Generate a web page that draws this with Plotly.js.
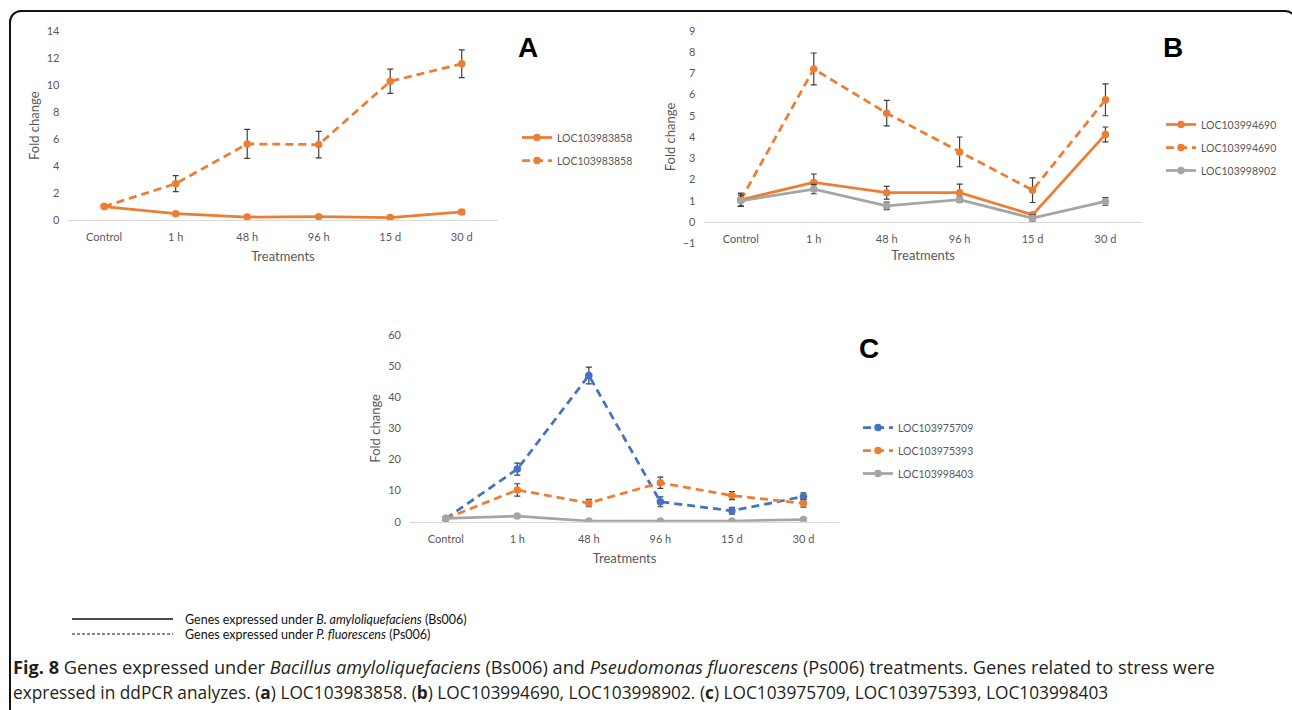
<!DOCTYPE html>
<html>
<head>
<meta charset="utf-8">
<script src="https://cdn.plot.ly/plotly-3.0.1.min.js"></script>
<style>
  html, body { margin: 0; padding: 0; background: #fff; overflow: hidden; }
  #wrap { position: relative; width: 1292px; height: 710px; overflow: hidden; }
  #chart { position: absolute; left: 0; top: 0; width: 1292px; height: 710px; }
  #frame { position: absolute; left: 9px; top: 10px; width: 1284px; height: 720px;
           border: 2px solid #111; border-radius: 12px; pointer-events: none; box-sizing: content-box; }
</style>
</head>
<body>
<div id="wrap"><div id="chart"></div><div id="frame"></div></div>
<script>
// ---------- data ----------
const categories = ['Control', '1 h', '48 h', '96 h', '15 d', '30 d'];

// Panel A
const a_bs_LOC103983858 = [1.0, 0.47, 0.22, 0.25, 0.18, 0.6];
const a_bs_LOC103983858_err = [0.1, 0.08, 0.05, 0.05, 0.05, 0.18];
const a_ps_LOC103983858 = [1.0, 2.7, 5.65, 5.6, 10.3, 11.6];
const a_ps_LOC103983858_err = [0.1, 0.6, 1.08, 0.98, 0.9, 1.03];

// Panel B
const b_bs_LOC103994690 = [1.05, 1.86, 1.38, 1.38, 0.34, 4.12];
const b_bs_LOC103994690_err = [0.3, 0.4, 0.3, 0.4, 0.1, 0.35];
const b_ps_LOC103994690 = [1.05, 7.2, 5.12, 3.3, 1.5, 5.75];
const b_ps_LOC103994690_err = [0.3, 0.75, 0.6, 0.7, 0.58, 0.75];
const b_bs_LOC103998902 = [1.0, 1.55, 0.76, 1.05, 0.18, 0.97];
const b_bs_LOC103998902_err = [0.27, 0.22, 0.18, 0.13, 0.17, 0.18];

// Panel C
const c_ps_LOC103975709 = [1.0, 16.9, 47.0, 6.4, 3.5, 8.1];
const c_ps_LOC103975709_err = [0.5, 1.9, 2.7, 1.6, 1.1, 1.2];
const c_ps_LOC103975393 = [1.0, 10.2, 6.0, 12.5, 8.4, 5.9];
const c_ps_LOC103975393_err = [0.5, 2.0, 1.2, 1.8, 1.3, 1.2];
const c_bs_LOC103998403 = [1.1, 1.8, 0.2, 0.2, 0.2, 0.7];

// ---------- styling ----------
const W = 1292, H = 710;
const px = v => v / W;
const py = v => 1 - v / H;
const ORANGE = '#ED7D31', GRAY = '#A5A5A5', BLUE = '#4472C4';
const TXT = '#595959';
const FONT = 'Lato, "Open Sans", sans-serif';
const DASH = '8px,5px';

function errY(arr) {
  return { type: 'data', array: arr, visible: true, color: '#3f3f3f', thickness: 1.2, width: 3 };
}
function tr(y, err, color, dash, name, xa, ya, leg, grp) {
  const t = {
    type: 'scatter', mode: 'lines+markers', x: categories, y: y, name: name,
    xaxis: xa, yaxis: ya, legend: leg, legendgroup: grp,
    line: { color: color, width: 2.75, dash: dash },
    marker: { color: color, size: 7.5, symbol: 'circle' },
    hoverinfo: 'x+y+name'
  };
  if (err) t.error_y = errY(err);
  return t;
}

const data = [
  tr(a_bs_LOC103983858, a_bs_LOC103983858_err, ORANGE, 'solid', 'LOC103983858', 'x', 'y', 'legend', 'a1'),
  tr(a_ps_LOC103983858, a_ps_LOC103983858_err, ORANGE, DASH, 'LOC103983858', 'x', 'y', 'legend', 'a2'),
  tr(b_bs_LOC103994690, b_bs_LOC103994690_err, ORANGE, 'solid', 'LOC103994690', 'x2', 'y2', 'legend2', 'b1'),
  tr(b_ps_LOC103994690, b_ps_LOC103994690_err, ORANGE, DASH, 'LOC103994690', 'x2', 'y2', 'legend2', 'b2'),
  tr(b_bs_LOC103998902, b_bs_LOC103998902_err, GRAY, 'solid', 'LOC103998902', 'x2', 'y2', 'legend2', 'b3'),
  tr(c_ps_LOC103975709, c_ps_LOC103975709_err, BLUE, DASH, 'LOC103975709', 'x3', 'y3', 'legend3', 'c1'),
  tr(c_ps_LOC103975393, c_ps_LOC103975393_err, ORANGE, DASH, 'LOC103975393', 'x3', 'y3', 'legend3', 'c2'),
  tr(c_bs_LOC103998403, null, GRAY, 'solid', 'LOC103998403', 'x3', 'y3', 'legend3', 'c3')
];

function xAx(domain, anchor, standoff, extra) {
  return Object.assign({
    domain: domain, anchor: anchor, type: 'category', range: [-0.5, 5.5],
    showgrid: false, zeroline: false, showline: true, linecolor: '#d9d9d9', linewidth: 1,
    ticks: '', ticklabelstandoff: 7, tickfont: { family: FONT, size: 11, color: TXT },
    title: { text: 'Treatments', font: { family: FONT, size: 13, color: TXT }, standoff: standoff },
    fixedrange: true
  }, extra || {});
}
function yAx(domain, anchor, range, dtick) {
  return {
    domain: domain, anchor: anchor, range: range, dtick: dtick, tick0: 0,
    showgrid: false, zeroline: false, showline: false, ticks: '',
    ticklabelstandoff: 8, tickfont: { family: FONT, size: 11, color: TXT },
    title: { text: 'Fold change', font: { family: FONT, size: 13, color: TXT }, standoff: 4 },
    fixedrange: true
  };
}

// panel pixel frames
const A = { x0: 68.4, x1: 497.5, yTop: 31.5, yBot: 220 };
const B = { x0: 704.4, x1: 1141.9, yTop: 30.7, yBot: 243.3, yZero: 222.0 };
const C = { x0: 410, x1: 839.2, yTop: 335, yBot: 521.7 };

function legendAt(xpix, ypix) {
  return {
    x: px(xpix), y: py(ypix), xanchor: 'left', yanchor: 'top',
    bgcolor: 'rgba(0,0,0,0)', borderwidth: 0, traceorder: 'grouped', tracegroupgap: 4,
    font: { family: FONT, size: 10.5, color: TXT }, itemclick: false, itemdoubleclick: false
  };
}

const capFont1 = { family: '"Open Sans", "Noto Sans", sans-serif', size: 18.2, color: '#231f20' };
const capFont2 = { family: '"Open Sans", "Noto Sans", sans-serif', size: 17.3, color: '#231f20' };
const legFont = { family: FONT, size: 12.5, color: '#111' };

const layout = {
  width: W, height: H, margin: { l: 0, r: 0, t: 0, b: 0 },
  paper_bgcolor: '#ffffff', plot_bgcolor: 'rgba(0,0,0,0)',
  showlegend: true,
  xaxis: xAx([px(A.x0), px(A.x1)], 'y', 9),
  yaxis: yAx([py(A.yBot), py(A.yTop)], 'x', [0, 14], 2),
  xaxis2: xAx([px(B.x0), px(B.x1)], 'free', 6, { position: py(B.yZero) }),
  yaxis2: yAx([py(B.yBot), py(B.yTop)], 'x2', [-1, 9], 1),
  xaxis3: xAx([px(C.x0), px(C.x1)], 'y3', 9),
  yaxis3: yAx([py(C.yBot), py(C.yTop)], 'x3', [0, 60], 10),
  legend: legendAt(517, 123),
  legend2: legendAt(1161, 110),
  legend3: legendAt(858, 413),
  annotations: [
    { text: '<b>A</b>', x: px(516), y: py(47), xref: 'paper', yref: 'paper', xanchor: 'left', yanchor: 'middle',
      showarrow: false, font: { family: '"Liberation Sans", Arial, sans-serif', size: 28, color: '#000' } },
    { text: '<b>B</b>', x: px(1161), y: py(47), xref: 'paper', yref: 'paper', xanchor: 'left', yanchor: 'middle',
      showarrow: false, font: { family: '"Liberation Sans", Arial, sans-serif', size: 28, color: '#000' } },
    { text: '<b>C</b>', x: px(857), y: py(348), xref: 'paper', yref: 'paper', xanchor: 'left', yanchor: 'middle',
      showarrow: false, font: { family: '"Liberation Sans", Arial, sans-serif', size: 28, color: '#000' } },
    { text: 'Genes expressed under <i>B. amyloliquefaciens</i> (Bs006)', x: px(183), y: py(619), xref: 'paper', yref: 'paper',
      xanchor: 'left', yanchor: 'middle', showarrow: false, font: legFont },
    { text: 'Genes expressed under <i>P. fluorescens</i> (Ps006)', x: px(183), y: py(634), xref: 'paper', yref: 'paper',
      xanchor: 'left', yanchor: 'middle', showarrow: false, font: legFont },
    { text: '<b>Fig. 8</b> Genes expressed under <i>Bacillus amyloliquefaciens</i> (Bs006) and <i>Pseudomonas fluorescens</i> (Ps006) treatments. Genes related to stress were',
      x: px(11), y: py(667), xref: 'paper', yref: 'paper', xanchor: 'left', yanchor: 'middle', showarrow: false, font: capFont1 },
    { text: 'expressed in ddPCR analyzes. (<b>a</b>) LOC103983858. (<b>b</b>) LOC103994690, LOC103998902. (<b>c</b>) LOC103975709, LOC103975393, LOC103998403',
      x: px(11), y: py(692), xref: 'paper', yref: 'paper', xanchor: 'left', yanchor: 'middle', showarrow: false, font: capFont2 }
  ],
  shapes: [
    { type: 'line', xref: 'paper', yref: 'paper', x0: px(72), x1: px(173), y0: py(619), y1: py(619),
      line: { color: '#111', width: 1.5 } },
    { type: 'line', xref: 'paper', yref: 'paper', x0: px(72), x1: px(173), y0: py(634), y1: py(634),
      line: { color: '#111', width: 1, dash: '3px,2px' } }
  ]
};

Plotly.newPlot('chart', data, layout, { displayModeBar: false, staticPlot: false, responsive: false });
</script>
</body>
</html>
